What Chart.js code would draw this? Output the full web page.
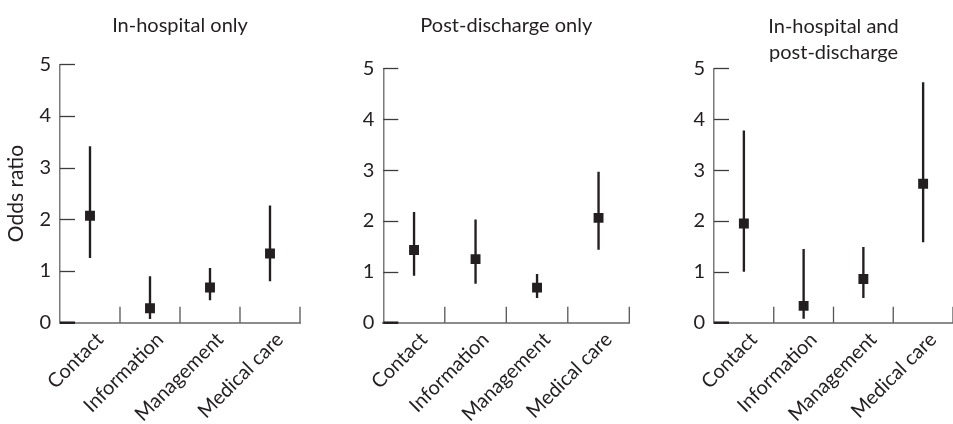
<!DOCTYPE html>
<html>
<head>
<meta charset="utf-8">
<script src="https://cdn.jsdelivr.net/npm/chart.js@4.4.1/dist/chart.umd.min.js"></script>
<style>
  html, body { margin: 0; padding: 0; background: #fff; overflow: hidden; }
  body { width: 953px; height: 424px; position: relative; }
  .panel { position: absolute; top: 0; width: 320px; height: 424px; }
</style>
</head>
<body>
<div class="panel" style="left:0px"><canvas id="chart1" width="320" height="424"></canvas></div>
<div class="panel" style="left:320px"><canvas id="chart2" width="320" height="424"></canvas></div>
<div class="panel" style="left:640px"><canvas id="chart3" width="320" height="424"></canvas></div>
<script>
// categories and y ticks
const categories = ["Contact", "Information", "Management", "Medical care"];
const yTicks = [0, 1, 2, 3, 4, 5];

// In-hospital only
const inHospOR = [2.07, 0.28, 0.68, 1.34];
const inHospLow = [1.26, 0.08, 0.44, 0.81];
const inHospHigh = [3.41, 0.89, 1.05, 2.26];

// Post-discharge only
const postOR = [1.43, 1.25, 0.69, 2.06];
const postLow = [0.93, 0.77, 0.49, 1.44];
const postHigh = [2.17, 2.02, 0.95, 2.96];

// In-hospital and post-discharge
const bothOR = [1.95, 0.33, 0.86, 2.73];
const bothLow = [1.01, 0.085, 0.49, 1.59];
const bothHigh = [3.77, 1.44, 1.48, 4.72];

const ink = "#231f20";
const font = "Lato, 'Open Sans', sans-serif";

// ticks drawn inward, like the original figure
const innerTicks = {
    id: "innerTicks",
    afterDraw(chart) {
        const ctx = chart.ctx;
        const x = chart.scales.x;
        const y = chart.scales.y;
        const area = chart.chartArea;
        ctx.save();
        ctx.strokeStyle = "#3c3c3c";
        ctx.lineWidth = 1.3;
        yTicks.forEach(v => {
            if (v === 0) return;
            const py = Math.round(y.getPixelForValue(v)) + 0.5;
            ctx.beginPath();
            ctx.moveTo(area.left, py);
            ctx.lineTo(area.left + 15, py);
            ctx.stroke();
        });
        const half = (x.getPixelForValue(1) - x.getPixelForValue(0)) / 2;
        ctx.strokeStyle = "#555";
        categories.forEach((c, i) => {
            const px = x.getPixelForValue(i) + half;
            ctx.beginPath();
            ctx.moveTo(px, area.bottom);
            ctx.lineTo(px, area.bottom - 16);
            ctx.stroke();
        });
        // zero tick, heavier
        const p0 = y.getPixelForValue(0);
        ctx.strokeStyle = ink;
        ctx.lineWidth = 2.5;
        ctx.beginPath();
        ctx.moveTo(area.left, p0);
        ctx.lineTo(area.left + 15, p0);
        ctx.stroke();
        ctx.restore();
    }
};

function makeChart(id, opts) {
    const ctx = document.getElementById(id).getContext("2d");
    return new Chart(ctx, {
        type: "bar",
        data: {
            labels: categories,
            datasets: [
                {
                    type: "line",
                    data: opts.or,
                    showLine: false,
                    pointStyle: "rect",
                    pointRadius: 7,
                    pointBackgroundColor: ink,
                    pointBorderWidth: 0,
                    order: 0,
                },
                {
                    data: categories.map((c, i) => [opts.low[i], opts.high[i]]),
                    backgroundColor: ink,
                    barThickness: 1.7,
                    borderWidth: 0,
                    order: 1,
                },
            ],
        },
        options: {
            responsive: false,
            animation: false,
            layout: { padding: { left: 0, right: opts.padRight, top: 0, bottom: 0 } },
            plugins: {
                legend: { display: false },
                tooltip: { enabled: false },
                title: {
                    display: true,
                    fullSize: false,
                    text: opts.title,
                    color: ink,
                    font: { family: font, size: 20, weight: "normal", lineHeight: 1.3 },
                    padding: { top: opts.titleTop, bottom: opts.titleBottom },
                },
            },
            scales: {
                x: {
                    grid: { display: false, drawTicks: false },
                    border: { color: "#8c8c8c", width: 2 },
                    ticks: {
                        color: ink,
                        font: { family: font, size: 20 },
                        minRotation: 45,
                        maxRotation: 45,
                        padding: 5,
                        labelOffset: 10,
                    },
                    afterFit(s) {
                        s.height = 424 - 322.7;
                        s.paddingLeft = 0;
                        s.paddingRight = 0;
                    },
                },
                y: {
                    min: 0,
                    max: 5,
                    grid: { display: false, drawTicks: false },
                    border: { color: "#7a7a7a", width: 1.5 },
                    ticks: {
                        stepSize: 1,
                        color: ink,
                        font: { family: font, size: 20 },
                        padding: 9,
                    },
                    title: {
                        display: opts.yTitle,
                        text: "Odds ratio",
                        color: ink,
                        font: { family: font, size: 21 },
                        padding: { top: 4, bottom: 0 },
                    },
                    afterFit(s) {
                        s.width = opts.yWidth;
                        s.paddingTop = 0;
                        s.paddingBottom = 0;
                    },
                },
            },
        },
        plugins: [innerTicks],
    });
}

makeChart("chart1", {
    or: inHospOR, low: inHospLow, high: inHospHigh,
    title: "In-hospital only", titleTop: 13, titleBottom: 25.3,
    yWidth: 60, padRight: 20, yTitle: true,
});
makeChart("chart2", {
    or: postOR, low: postLow, high: postHigh,
    title: "Post-discharge only", titleTop: 13, titleBottom: 29.3,
    yWidth: 63.3, padRight: 10.7, yTitle: false,
});
makeChart("chart3", {
    or: bothOR, low: bothLow, high: bothHigh,
    title: ["In-hospital and", "post-discharge"], titleTop: 14, titleBottom: 2.3,
    yWidth: 74, padRight: 4, yTitle: false,
});
</script>
</body>
</html>
